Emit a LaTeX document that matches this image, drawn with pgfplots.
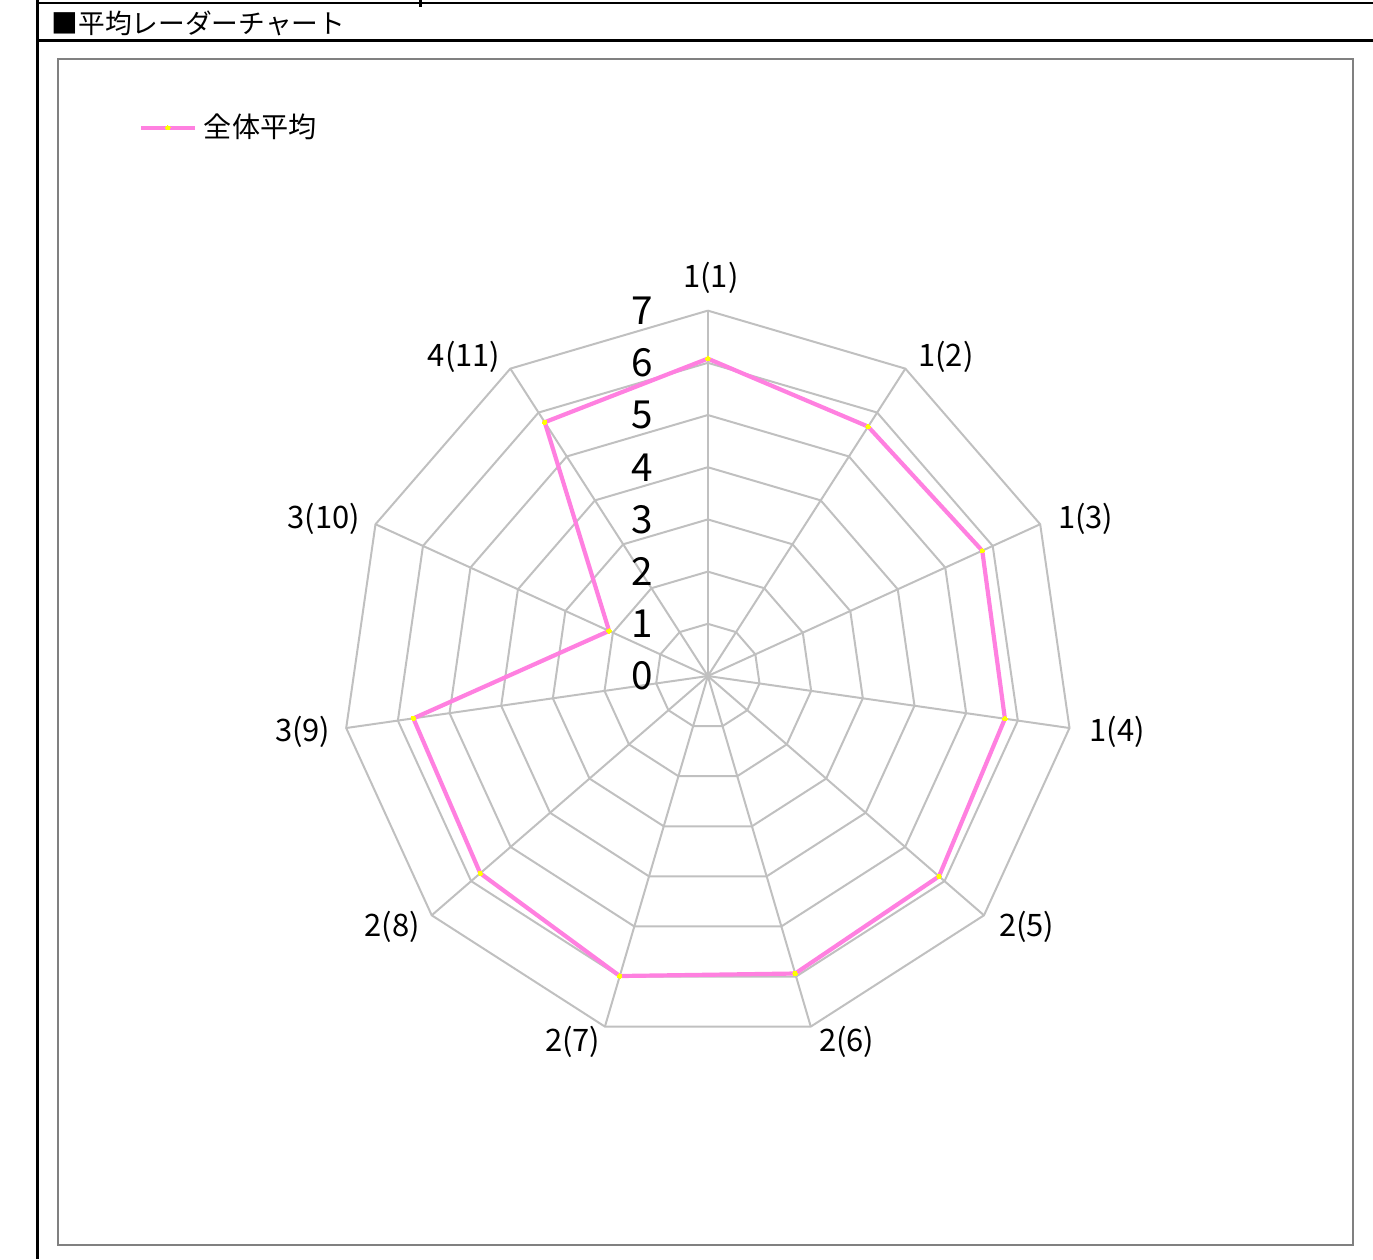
\documentclass[border=0pt]{standalone}
\usepackage{fontspec}
\setmainfont{Noto Sans CJK JP}
\usepackage{pgfplots}
\usepgfplotslibrary{polar}
\pgfplotsset{compat=1.18}
\definecolor{gridc}{RGB}{192,192,192}
\definecolor{pinkc}{RGB}{255,128,224}
\definecolor{dotc}{RGB}{255,255,0}
\newcommand{\lf}{\fontsize{8.8}{10}\selectfont}
\newcommand{\tf}{\fontsize{11}{12}\selectfont}
\begin{document}
\begin{tikzpicture}
\begin{scope}[x=0.1mm,y=-0.1mm,shift={(-5.8mm,5.9mm)}]
\useasboundingbox (0,0) rectangle (1373,1259);
\draw[line width=0.3mm] (37,0) -- (37,1259);
\draw[line width=0.25mm] (37,3) -- (1373,3);
\draw[line width=0.3mm] (37,40.5) -- (1373,40.5);
\draw[line width=0.3mm] (420,0) -- (420,7);
\node[anchor=west,inner sep=0pt,font=\fontsize{7.6}{9}\selectfont] at (51,23) {■平均レーダーチャート};
\end{scope}
\begin{axis}[
  at={(0,0)}, anchor=north west,
  scale only axis, width=129.5mm, height=118.6mm,
  xmin=-12.45, xmax=12.36, ymin=-10.90, ymax=11.82,
  axis lines=box, xtick=\empty, ytick=\empty,
  axis line style={line width=0.15mm, draw={rgb,255:red,128;green,128;blue,128}},
  clip=false,
  legend style={at={(0.0618,0.942)}, anchor=west, draw=none, fill=none,
    inner xsep=0pt, inner ysep=0pt, font=\fontsize{8}{9}\selectfont},
  legend cell align=left,
  legend image code/.code={
    \draw[#1, mark=none] (0mm,0mm) -- (5.4mm,0mm);
    \draw[#1, only marks] plot coordinates {(2.7mm,0mm)};
  },
]
% ring polygons
\pgfplotsinvokeforeach{1,2,3,4,5,6,7}{
\addplot[gridc, line width=0.2mm, data cs=polar, forget plot] coordinates {
(90,#1) (57.2727,#1) (24.5455,#1) (-8.1818,#1) (-40.9091,#1) (-73.6364,#1)
(-106.3636,#1) (-139.0909,#1) (-171.8182,#1) (-204.5455,#1) (-237.2727,#1) (90,#1)};
}
% spokes
\pgfplotsinvokeforeach{90,57.2727,24.5455,-8.1818,-40.9091,-73.6364,-106.3636,-139.0909,-171.8182,-204.5455,-237.2727}{
\addplot[gridc, line width=0.2mm, data cs=polar, forget plot] coordinates {(#1,0) (#1,7)};
}
% data series
\addplot[pinkc, line width=0.42mm, data cs=polar,
  mark=*, mark size=0.22mm, mark options={draw=dotc, fill=dotc, line width=0pt}] coordinates {
(90,6.08) (57.2727,5.68) (24.5455,5.78) (-8.1818,5.75) (-40.9091,5.86) (-73.6364,5.94)
(-106.3636,5.99) (-139.0909,5.77) (-171.8182,5.70) (-204.5455,2.08) (-237.2727,5.78) (-270,6.08)};
\addlegendentry{全体平均}
% radial tick labels
\pgfplotsinvokeforeach{0,1,2,3,4,5,6,7}{
  \node[font=\tf, inner sep=0pt] at (axis cs:-1.25,#1) {#1};
}
% category labels
\node[font=\lf,inner sep=0pt] at (axis cs:0.06,7.62) {1(1)};
\node[font=\lf,inner sep=0pt] at (axis cs:4.56,6.11) {1(2)};
\node[font=\lf,inner sep=0pt] at (axis cs:7.24,3.01) {1(3)};
\node[font=\lf,inner sep=0pt] at (axis cs:7.84,-1.07) {1(4)};
\node[font=\lf,inner sep=0pt] at (axis cs:6.11,-4.81) {2(5)};
\node[font=\lf,inner sep=0pt] at (axis cs:2.66,-7.01) {2(6)};
\node[font=\lf,inner sep=0pt] at (axis cs:-2.59,-7.01) {2(7)};
\node[font=\lf,inner sep=0pt] at (axis cs:-6.05,-4.81) {2(8)};
\node[font=\lf,inner sep=0pt] at (axis cs:-7.76,-1.07) {3(9)};
\node[font=\lf,inner sep=0pt] at (axis cs:-7.36,3.01) {3(10)};
\node[font=\lf,inner sep=0pt] at (axis cs:-4.67,6.11) {4(11)};
\end{axis}
\end{tikzpicture}
\end{document}
